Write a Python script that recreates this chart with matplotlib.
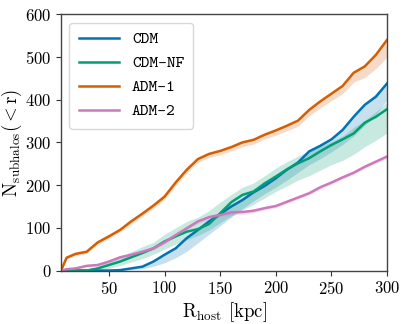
import matplotlib
matplotlib.use('Agg')
from matplotlib import pyplot as plt

# radius grid (kpc)
r_host = [7, 12, 20, 30, 40, 50, 60, 70, 80, 90, 100, 110, 120, 130, 140, 150,
          160, 170, 180, 190, 200, 210, 220, 230, 240, 250, 260, 270, 280, 290, 300]

# cumulative subhalo counts, median + band
cdm = [0, 0, 0, 0, 0, 0, 1, 5, 9, 21, 37, 52, 76, 95, 115, 132,
       150, 165, 183, 198, 216, 236, 253, 279, 292, 307, 329, 360, 388, 407, 438]
cdm_lo = [0, 0, 0, 0, 0, 0, 0, 2, 4, 10, 18, 30, 45, 65, 85, 105,
          125, 145, 163, 180, 195, 212, 230, 248, 262, 278, 295, 315, 340, 365, 400]
cdm_hi = [0, 0, 0, 0, 0, 0, 2, 6, 10, 22, 38, 54, 77, 96, 117, 136,
          155, 170, 188, 204, 222, 240, 258, 282, 296, 312, 334, 364, 392, 415, 442]

cdm_nf = [0, 0, 0, 0, 5, 13, 21, 31, 41, 52, 68, 80, 91, 97, 109, 134,
          160, 177, 185, 204, 220, 237, 251, 263, 279, 294, 307, 321, 346, 360, 378]
cdm_nf_lo = [0, 0, 0, 0, 0, 5, 12, 20, 28, 38, 50, 62, 72, 82, 95, 112,
             128, 142, 155, 170, 185, 198, 212, 222, 235, 248, 258, 272, 290, 305, 322]
cdm_nf_hi = [0, 0, 0, 0, 10, 22, 32, 44, 56, 66, 85, 100, 115, 125, 140, 160,
             178, 195, 205, 222, 240, 255, 268, 280, 290, 302, 315, 335, 352, 372, 395]

adm1 = [0, 30, 39, 44, 66, 80, 95, 115, 133, 152, 173, 206, 236, 261, 273, 280,
        289, 300, 306, 318, 328, 339, 351, 376, 396, 414, 432, 463, 478, 505, 540]
adm1_lo = [0, 27, 35, 40, 61, 75, 90, 109, 127, 146, 166, 199, 228, 253, 265, 271,
           280, 290, 296, 308, 317, 327, 338, 362, 381, 398, 414, 441, 452, 473, 500]
adm1_hi = [0, 32, 41, 46, 68, 82, 98, 118, 136, 155, 176, 209, 239, 264, 276, 283,
           292, 303, 309, 321, 331, 342, 354, 379, 399, 417, 435, 466, 481, 508, 543]

adm2 = [0, 3, 5, 11, 13, 21, 31, 37, 44, 52, 66, 83, 99, 115, 125, 130,
        136, 137, 140, 146, 151, 161, 171, 181, 195, 206, 218, 229, 243, 255, 267]
adm2_lo = [0, 1, 3, 8, 10, 18, 27, 33, 40, 48, 62, 79, 95, 110, 120, 125,
           130, 131, 135, 142, 147, 157, 167, 177, 191, 202, 214, 225, 239, 251, 262]
adm2_hi = [0, 5, 7, 13, 16, 24, 34, 40, 47, 55, 69, 86, 102, 119, 129, 136,
           142, 142, 144, 150, 155, 164, 174, 184, 198, 209, 221, 232, 246, 258, 270]

labels = ['CDM', 'CDM-NF', 'ADM-1', 'ADM-2']
colors = ['#0173b2', '#029e73', '#d55e00', '#cc78bc']

plt.rcParams['font.family'] = 'serif'
plt.rcParams['font.serif'] = ['cmr10']
plt.rcParams['mathtext.fontset'] = 'cm'
plt.rcParams['axes.formatter.use_mathtext'] = True
plt.rcParams['axes.unicode_minus'] = False

fig = plt.figure(figsize=(4.07, 3.24), dpi=100)
ax = fig.add_axes([0.150, 0.165, 0.801, 0.791])

series = [(cdm, cdm_lo, cdm_hi), (cdm_nf, cdm_nf_lo, cdm_nf_hi),
          (adm1, adm1_lo, adm1_hi), (adm2, adm2_lo, adm2_hi)]
for (mid, lo, hi), lab, col in zip(series, labels, colors):
    ax.fill_between(r_host, lo, hi, color=col, alpha=0.22, linewidth=0)
    ax.plot(r_host, mid, color=col, lw=1.8, label=lab)

ax.set_xlim(7, 300)
ax.set_ylim(0, 600)
ax.set_xticks([50, 100, 150, 200, 250, 300])
ax.set_yticks([0, 100, 200, 300, 400, 500, 600])
ax.tick_params(labelsize=12, direction='out', length=3.5, width=0.8, colors='#333333', labelcolor='black')
for s in ax.spines.values():
    s.set_color('#444444')
    s.set_linewidth(1.0)

ax.set_xlabel(r'$\mathrm{R_{host}}$ [kpc]', fontsize=13.5, labelpad=2)
ax.set_ylabel(r'$\mathrm{N_{subhalos}({<}r)}$', fontsize=13.5, labelpad=1)

leg = ax.legend(loc='upper left', prop={'family': 'cmtt10', 'size': 12},
                handlelength=2.4, labelspacing=0.5, borderpad=0.55, framealpha=1.0,
                edgecolor='#d8d8d8', fancybox=True)

plt.savefig('out.png', dpi=100)
